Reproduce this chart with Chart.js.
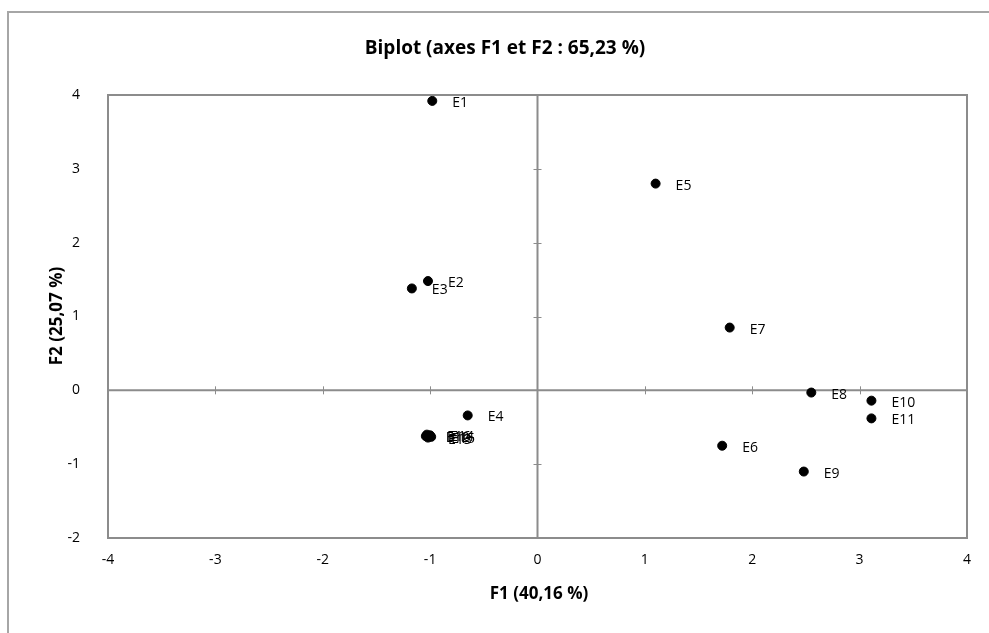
<!DOCTYPE html>
<html>
<head>
<meta charset="utf-8">
<script src="https://cdn.jsdelivr.net/npm/chart.js@4.4.0/dist/chart.umd.min.js"></script>
<style>
html,body{margin:0;padding:0;background:#fff;}
#wrap{position:absolute;left:0;top:0;width:989px;height:633px;}
</style>
</head>
<body>
<div id="wrap"><canvas id="c" width="989" height="633"></canvas></div>
<script>
const labels = ["E1","E2","E3","E4","E5","E6","E7","E8","E9","E10","E11","E12","E13","E14","E15","E16"];
const f1 = [-0.98,-1.02,-1.17,-0.65,1.10,1.72,1.79,2.55,2.48,3.11,3.11,-1.04,-1.02,-1.00,-0.99,-1.03];
const f2 = [3.92,1.48,1.38,-0.34,2.80,-0.75,0.85,-0.03,-1.10,-0.14,-0.38,-0.62,-0.64,-0.61,-0.63,-0.60];
const xTicks = [-4,-3,-2,-1,0,1,2,3,4];
const yTicks = [-2,-1,0,1,2,3,4];
const chartTitle = "Biplot (axes F1 et F2 : 65,23 %)";
const xTitle = "F1 (40,16 %)";
const yTitle = "F2 (25,07 %)";

const FONT = "'Open Sans', sans-serif";
const GRAY = "#8c8c8c";

const points = f1.map((v,i)=>({x:v,y:f2[i],label:labels[i]}));

const decor = {
  id:'decor',
  beforeDraw(chart){
    const ctx = chart.ctx;
    ctx.save();
    ctx.fillStyle = '#fff';
    ctx.fillRect(0,0,chart.width,chart.height);
    ctx.strokeStyle = '#a6a6a6';
    ctx.lineWidth = 2;
    ctx.strokeRect(8,12,chart.width+20,chart.height+20);
    ctx.restore();
  },
  beforeDatasetsDraw(chart){
    const ctx = chart.ctx, a = chart.chartArea;
    const xs = chart.scales.x, ys = chart.scales.y;
    ctx.save();
    ctx.strokeStyle = GRAY;
    ctx.lineWidth = 2;
    ctx.strokeRect(a.left, a.top, a.right-a.left, a.bottom-a.top);
    const x0 = xs.getPixelForValue(0), y0 = ys.getPixelForValue(0);
    ctx.beginPath();
    ctx.moveTo(a.left, y0); ctx.lineTo(a.right, y0);
    ctx.moveTo(x0, a.top); ctx.lineTo(x0, a.bottom);
    ctx.stroke();
    ctx.lineWidth = 1;
    ctx.beginPath();
    xTicks.forEach(v=>{
      if (v===0) return;
      const px = Math.round(xs.getPixelForValue(v))+0.5;
      ctx.moveTo(px, y0-4); ctx.lineTo(px, y0+4);
    });
    yTicks.forEach(v=>{
      if (v===0) return;
      const py = Math.round(ys.getPixelForValue(v))+0.5;
      ctx.moveTo(x0-4, py); ctx.lineTo(x0+4, py);
    });
    ctx.stroke();
    ctx.restore();
  },
  afterDatasetsDraw(chart){
    const ctx = chart.ctx;
    const meta = chart.getDatasetMeta(0);
    ctx.save();
    ctx.fillStyle = '#000';
    ctx.font = "14px " + FONT;
    ctx.textBaseline = 'middle';
    ctx.textAlign = 'left';
    meta.data.forEach((el,i)=>{
      ctx.fillText(points[i].label, el.x+20, el.y+2);
    });
    ctx.font = "bold 19px " + FONT;
    ctx.textAlign = 'center';
    ctx.fillText(chartTitle, 505, 49);
    ctx.font = "bold 17px " + FONT;
    ctx.fillText(xTitle, 539, 594);
    ctx.save();
    ctx.translate(57, 316);
    ctx.rotate(-Math.PI/2);
    ctx.fillText(yTitle, 0, 0);
    ctx.restore();
    ctx.restore();
  }
};

new Chart(document.getElementById('c'), {
  type:'scatter',
  data:{datasets:[{
    data:points,
    backgroundColor:'#000',
    borderColor:'#000',
    pointRadius:4.5,
    pointHoverRadius:4.5
  }]},
  options:{
    responsive:false,
    animation:false,
    events:[],
    layout:{padding:{left:0,top:95,right:22,bottom:0}},
    plugins:{legend:{display:false},title:{display:false},tooltip:{enabled:false}},
    scales:{
      x:{
        type:'linear', min:-4, max:4,
        afterBuildTicks(s){ s.ticks = xTicks.map(v=>({value:v})); },
        afterFit(s){ s.height = 95; },
        grid:{display:false, drawTicks:false},
        border:{display:false},
        ticks:{padding:14, color:'#000', font:{family:FONT,size:14}, maxRotation:0}
      },
      y:{
        type:'linear', min:-2, max:4,
        afterBuildTicks(s){ s.ticks = yTicks.map(v=>({value:v})); },
        afterFit(s){ s.width = 108; },
        grid:{display:false, drawTicks:false},
        border:{display:false},
        ticks:{padding:28, color:'#000', font:{family:FONT,size:14}}
      }
    }
  },
  plugins:[decor]
});
</script>
</body>
</html>
